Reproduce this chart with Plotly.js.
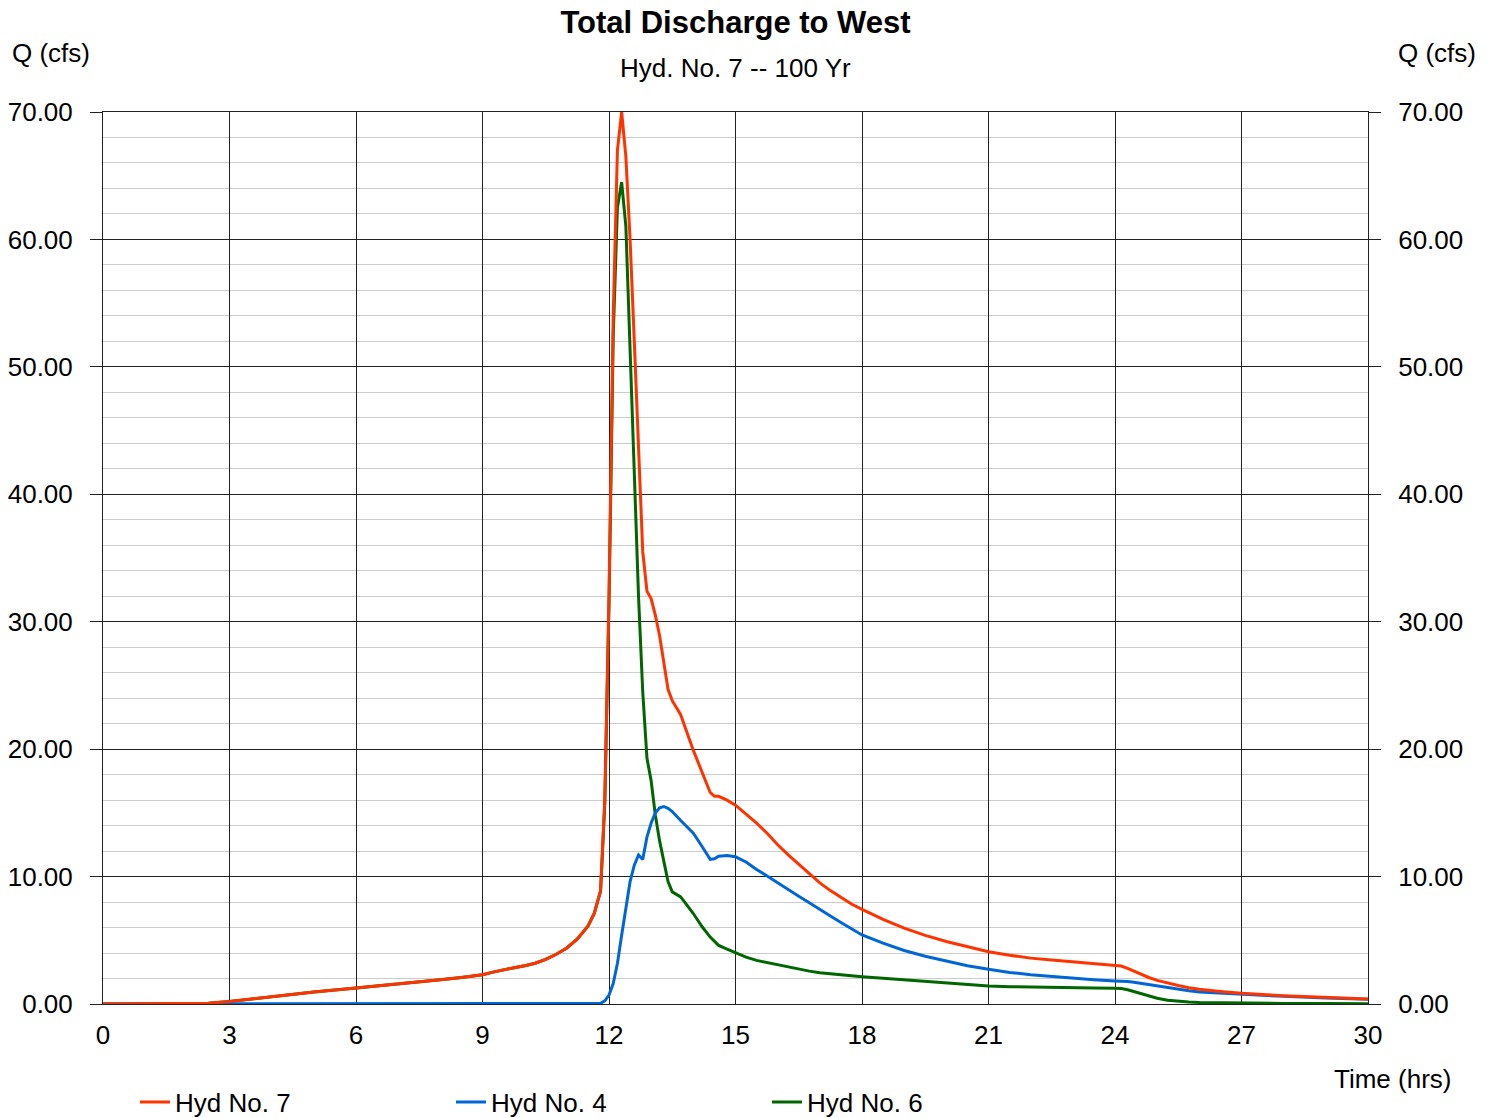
<!DOCTYPE html>
<html>
<head>
<meta charset="utf-8">
<script src="https://cdn.plot.ly/plotly-3.0.1.min.js"></script>
<style>html,body{margin:0;padding:0;background:#fff;}#chart{width:1496px;height:1118px;}</style>
</head>
<body>
<div id="chart"></div>
<script>
const timeHrs = [0, 1, 2, 2.5, 3, 3.5, 4, 5, 6, 7, 8, 8.5, 9, 9.25, 9.5, 9.75, 10, 10.25, 10.5, 10.75, 11, 11.25, 11.5, 11.65, 11.8, 11.9,
  12.0, 12.1, 12.2, 12.3, 12.4, 12.5, 12.6, 12.7, 12.8, 12.9, 13.0, 13.1, 13.2, 13.3, 13.4, 13.5, 13.7,
  14.0, 14.2, 14.4, 14.5, 14.6, 14.8, 15.0, 15.25, 15.5, 15.75, 16.0, 16.25, 16.5, 16.75, 17.0, 17.25, 17.5, 17.75,
  18.0, 18.5, 19.0, 19.5, 20.0, 20.5, 21.0, 21.5, 22.0, 22.5, 23.0, 23.5,
  24.0, 24.15, 24.3, 24.45, 24.6, 24.8, 25.0, 25.25, 25.5, 25.75, 26, 26.5, 27, 28, 29, 30];

const hyd7 = [0, 0, 0, 0.05, 0.2, 0.4, 0.6, 0.95, 1.25, 1.55, 1.9, 2.08, 2.3, 2.5, 2.7, 2.85, 3.0, 3.2, 3.5, 3.9, 4.4, 5.1, 6.1, 7.1, 8.9, 16,
  32, 54, 67, 70, 66.5, 60, 52, 43.5, 35.5, 32.4, 31.8, 30.5, 28.9, 26.8, 24.7, 23.8, 22.7,
  19.9, 18.3, 16.6, 16.3, 16.3, 16.0, 15.6, 14.9, 14.2, 13.4, 12.5, 11.7, 10.95, 10.2, 9.5, 8.9, 8.35, 7.85,
  7.43, 6.65, 5.95, 5.38, 4.9, 4.48, 4.1, 3.83, 3.6, 3.45, 3.32, 3.2,
  3.06, 2.98, 2.8, 2.58, 2.35, 2.08, 1.85, 1.63, 1.45, 1.28, 1.15, 0.98, 0.84, 0.65, 0.5, 0.39];

const hyd4 = [0, 0, 0, 0, 0, 0, 0, 0, 0, 0, 0, 0, 0, 0, 0, 0, 0, 0, 0, 0, 0, 0, 0, 0, 0.05, 0.25,
  0.7, 1.6, 3.2, 5.4, 7.7, 9.6, 10.9, 11.7, 11.35, 13.1, 14.2, 15.0, 15.4, 15.5, 15.35, 15.1, 14.4,
  13.4, 12.4, 11.35, 11.4, 11.6, 11.65, 11.55, 11.15, 10.55, 10.05, 9.5, 9.0, 8.45, 7.95, 7.4, 6.9, 6.4, 5.9,
  5.42, 4.78, 4.2, 3.75, 3.35, 3.0, 2.72, 2.48, 2.3, 2.15, 2.02, 1.9,
  1.8, 1.79, 1.76, 1.7, 1.62, 1.52, 1.42, 1.28, 1.15, 1.04, 0.95, 0.85, 0.76, 0.6, 0.47, 0.37];

const hyd6 = [0, 0, 0, 0.05, 0.2, 0.4, 0.6, 0.95, 1.25, 1.55, 1.9, 2.08, 2.3, 2.5, 2.7, 2.85, 3.0, 3.2, 3.5, 3.9, 4.4, 5.1, 6.1, 7.1, 8.85, 15.7,
  31.3, 52.4, 62.5, 64.5, 61, 51, 41, 32, 24.5, 19.3, 17.5, 14.8, 12.8, 11.2, 9.6, 8.8, 8.4,
  7.1, 6.1, 5.25, 4.9, 4.6, 4.3, 4.0, 3.68, 3.42, 3.25, 3.05, 2.9, 2.75, 2.58, 2.45, 2.36, 2.28, 2.2,
  2.14, 2.02, 1.9, 1.78, 1.65, 1.52, 1.41, 1.36, 1.32, 1.29, 1.27, 1.25,
  1.23, 1.21, 1.12, 0.97, 0.8, 0.6, 0.45, 0.3, 0.22, 0.16, 0.12, 0.09, 0.07, 0.04, 0.03, 0.02];

const seriesNames = ['Hyd No. 7', 'Hyd No. 4', 'Hyd No. 6'];
const yTicks = [0, 10, 20, 30, 40, 50, 60, 70];
const xTicks = [0, 3, 6, 9, 12, 15, 18, 21, 24, 27, 30];

const FONT = 'Liberation Sans, Arial, Helvetica, sans-serif';

const traces = [
  {x: timeHrs, y: hyd6, name: seriesNames[2], type: 'scatter', mode: 'lines',
   line: {color: '#006600', width: 3}, legendrank: 3},
  {x: timeHrs, y: hyd4, name: seriesNames[1], type: 'scatter', mode: 'lines',
   line: {color: '#0066d6', width: 3}, legendrank: 2},
  {x: timeHrs, y: hyd7, name: seriesNames[0], type: 'scatter', mode: 'lines',
   line: {color: '#ff3300', width: 3}, legendrank: 1},
  {x: [0, 30], y: [0, 0], yaxis: 'y2', type: 'scatter', mode: 'lines',
   line: {width: 0}, showlegend: false, hoverinfo: 'skip'}
];

const layout = {
  width: 1496, height: 1118,
  margin: {l: 103, r: 128, t: 112, b: 114},
  paper_bgcolor: '#ffffff', plot_bgcolor: '#ffffff',
  font: {family: FONT, size: 26, color: '#000'},
  title: {text: '<b>Total Discharge to West</b>', font: {family: FONT, size: 31, color: '#000'},
          x: 0.5, xref: 'paper', xanchor: 'center', y: 1 - 22/1118, yref: 'container', yanchor: 'middle'},
  showlegend: true,
  legend: {orientation: 'h', x: 32/1265, xref: 'paper', y: 1 - 1102/1118, yref: 'container',
           yanchor: 'middle', xanchor: 'left', entrywidth: 271, entrywidthmode: 'pixels',
           font: {family: FONT, size: 26}, traceorder: 'normal', bgcolor: 'rgba(0,0,0,0)'},
  xaxis: {range: [0, 30], tickmode: 'array', tickvals: xTicks, ticktext: xTicks.map(String),
          showgrid: true, gridcolor: '#222', gridwidth: 1, ticks: '', zeroline: false,
          showline: true, linecolor: '#222', linewidth: 1, mirror: true,
          tickfont: {family: FONT, size: 26}, ticklabelstandoff: 8, fixedrange: true},
  yaxis: {range: [0, 70], tickmode: 'array', tickvals: yTicks, ticktext: yTicks.map(v => v.toFixed(2)),
          showgrid: true, gridcolor: '#222', gridwidth: 1, ticks: 'outside', ticklen: 12, tickcolor: '#222',
          zeroline: false, showline: true, linecolor: '#222', linewidth: 1, mirror: true,
          minor: {dtick: 2, showgrid: true, gridcolor: '#cccccc', gridwidth: 1, ticks: ''},
          tickfont: {family: FONT, size: 26}, ticklabelstandoff: 12, fixedrange: true},
  yaxis2: {range: [0, 70], overlaying: 'y', side: 'right', tickmode: 'array', tickvals: yTicks,
           ticktext: yTicks.map(v => v.toFixed(2)), showgrid: false, ticks: 'outside', ticklen: 12,
           tickcolor: '#222', zeroline: false, showline: false,
           tickfont: {family: FONT, size: 26}, ticklabelstandoff: 12, fixedrange: true},
  annotations: [
    {text: 'Hyd. No. 7 -- 100 Yr', xref: 'paper', yref: 'paper', x: 0.5, y: 1 + (112 - 68)/892,
     xanchor: 'center', yanchor: 'middle', showarrow: false, font: {family: FONT, size: 26}},
    {text: 'Q (cfs)', xref: 'paper', yref: 'paper', x: (10 - 103)/1265, y: 1 + (112 - 53)/892,
     xanchor: 'left', yanchor: 'middle', showarrow: false, font: {family: FONT, size: 26}},
    {text: 'Q (cfs)', xref: 'paper', yref: 'paper', x: (1478 - 103)/1265, y: 1 + (112 - 53)/892,
     xanchor: 'right', yanchor: 'middle', showarrow: false, font: {family: FONT, size: 26}},
    {text: 'Time (hrs)', xref: 'paper', yref: 'paper', x: (1453 - 103)/1265, y: -(1079 - 1004)/892,
     xanchor: 'right', yanchor: 'middle', showarrow: false, font: {family: FONT, size: 26}}
  ]
};

Plotly.newPlot('chart', traces, layout, {displayModeBar: false, staticPlot: true});
</script>
</body>
</html>
